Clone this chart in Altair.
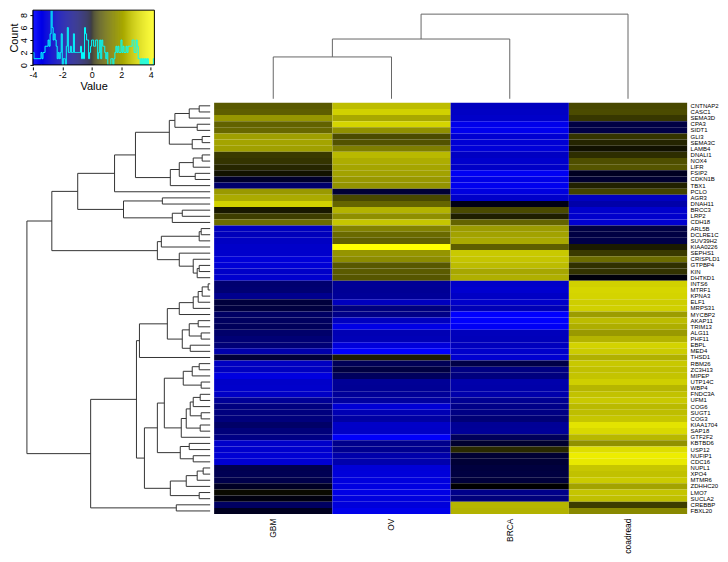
import altair as alt
import numpy as np
import pandas as pd

genes = ["CNTNAP2", "CASC1", "SEMA3D", "CPA3", "SIDT1", "GLI3", "SEMA3C", "LAMB4",
         "DNALI1", "NOX4", "LIFR", "FSIP2", "CDKN1B", "TBX1", "PCLO", "AGR3",
         "DNAH11", "BRCC3", "LRP2", "CDH18", "ARL5B", "DCLRE1C", "SUV39H2", "KIAA0226",
         "SEPHS1", "CRISPLD1", "GTPBP4", "KIN", "DHTKD1", "INTS6", "MTRF1", "KPNA3",
         "ELF1", "MRPS31", "MYCBP2", "AKAP11", "TRIM13", "ALG11", "PHF11", "EBPL",
         "MED4", "THSD1", "RBM26", "ZC3H13", "MIPEP", "UTP14C", "WBP4", "FNDC3A",
         "UFM1", "COG6", "SUGT1", "COG3", "KIAA1704", "SAP18", "GTF2F2", "KBTBD6",
         "USP12", "NUFIP1", "CDC16", "NUPL1", "XPO4", "MTMR6", "ZDHHC20", "LMO7",
         "SUCLA2", "CREBBP", "FBXL20"]

tumors = ["GBM", "OV", "BRCA", "coadread"]

gbm = [0.73, 0.80, 1.76, 0.86, 0.95, 1.93, 2.04, 1.96, 0.35, 0.30,
       0.18, 0.05, -0.22, -0.96, 1.84, 2.18, 3.08, 0.08, 0.40, 1.03,
       -2.45, -2.39, -2.56, -2.70, -2.76, -3.05, -2.98, -2.66, -2.81, -1.00,
       -1.04, -1.50, -0.36, -0.40, -0.84, -0.78, -0.72, -0.93, -1.09, -1.13,
       -2.05, -0.33, -2.53, -2.49, -3.22, -2.69, -2.74, -2.62, -1.66, -1.27,
       -1.24, -1.20, -0.89, -1.17, -1.36, -2.72, -2.78, -2.93, -2.90, -0.58,
       -0.62, -0.52, -0.15, 0.02, -0.04, -0.81, -0.12]

ov = [2.58, 3.04, 2.12, 3.15, 1.66, 0.57, 0.64, 1.32, 2.49, 2.22,
      2.06, 1.99, 1.80, 1.70, -0.31, 0.52, 0.91, 2.36, 1.62, 2.80,
      1.40, 0.98, 0.83, 4.25, 1.73, 1.57, 0.72, 0.76, 0.69, -1.66,
      -1.63, -1.69, -2.42, -1.22, -1.41, -2.51, -3.37, -2.24, -2.31, -3.13,
      -3.90, 0.10, -0.66, -0.42, -0.76, -1.66, -1.62, -1.70, -1.83, -2.96,
      -2.21, -1.90, -2.67, -2.64, -3.86, -1.47, -1.55, -2.05, -2.08, -3.01,
      -3.08, -3.17, -3.26, -3.31, -3.15, -3.10, -3.45]

brca = [-2.47, -2.58, -2.70, -3.48, -3.55, -2.91, -2.94, -3.03, -2.55, -2.75,
        -2.65, -3.68, -3.40, -3.60, -3.20, -2.71, -0.06, 0.54, 0.12, 0.88,
        1.86, 1.99, 2.15, 0.80, 2.85, 2.77, 2.55, 2.09, 2.27, -2.68,
        -2.83, -2.60, -2.72, -2.28, -4.00, -3.96, -3.78, -2.41, -2.36, -2.46,
        -2.73, -2.85, -0.47, -1.30, -1.25, -2.05, -2.02, -2.08, -1.58, -1.42,
        -1.33, -1.11, -1.66, -1.68, -0.71, -0.24, 0.20, -0.28, -0.30, -0.38,
        -0.41, -0.35, 0.00, -1.44, -1.19, 2.40, 2.33]

coadread = [0.52, 0.55, 0.33, -0.44, -0.47, 0.31, 0.16, 0.04, 0.24, 0.60,
            0.68, -0.13, -0.26, 0.14, 0.46, -2.50, -2.02, -2.77, -2.79, -2.86,
            -0.45, -0.43, -0.49, 0.10, 0.36, 1.02, 0.26, 0.29, -0.02, 3.06,
            3.18, 3.12, 2.97, 3.02, 1.90, 2.55, 2.25, 1.82, 2.37, 3.09,
            2.93, 2.31, 2.84, 2.66, 2.73, 3.00, 2.42, 2.70, 2.87, 2.51,
            2.61, 2.79, 3.51, 3.25, 2.47, 1.65, 3.38, 3.77, 3.65, 2.82,
            2.68, 2.91, 2.02, 2.76, 2.64, 0.39, 1.50]

# row dendrogram: (merge height, left, right); leaves are gene names
row_tree = (9.2,
    (7.95,
        (6.65,
            (4.8,
                (3.75,
                    (2.05,
                        (1.77, (1.05, (0.55, "CNTNAP2", "CASC1"), "SEMA3D"), (0.65, "CPA3", "SIDT1")),
                        (0.9, (0.4, "GLI3", "SEMA3C"), "LAMB4")),
                    (2.0,
                        (1.55, (0.85, (0.4, "DNALI1", "NOX4"), "LIFR"), (0.75, "FSIP2", "CDKN1B")),
                        "TBX1")),
                "PCLO"),
            (4.35, (2.4, "AGR3", "DNAH11"), (1.9, (1.4, "BRCC3", "LRP2"), "CDH18"))),
        (2.65,
            (2.45, (0.55, (0.45, "ARL5B", "DCLRE1C"), "SUV39H2"), "KIAA0226"),
            (1.55, "SEPHS1", (0.85, "CRISPLD1", (0.65, (0.55, "GTPBP4", "KIN"), "DHTKD1"))))),
    (6.0,
        (3.7,
            (3.55,
                (2.15,
                    (1.55, (0.85, (0.6, (0.4, (0.1, "INTS6", "MTRF1"), "KPNA3"), "ELF1"), "MRPS31"), "MYCBP2"),
                    (1.4, (1.05, (0.6, "AKAP11", "TRIM13"), (0.45, "ALG11", "PHF11")), (1.0, "EBPL", "MED4"))),
                "THSD1"),
            (3.3,
                (2.65,
                    (2.3,
                        (1.35, (0.9, (0.55, "RBM26", "ZC3H13"), "MIPEP"), (0.45, "UTP14C", "WBP4")),
                        (1.45, (1.2, (1.0, (0.85, (0.5, "FNDC3A", "UFM1"), "COG6"), (0.45, "SUGT1", "COG3")),
                                (0.5, "KIAA1704", "SAP18")), "GTF2F2")),
                    (1.5, (1.05, "KBTBD6", "USP12"), (0.85, "NUFIP1", "CDC16"))),
                (2.0, (1.2, (0.65, (0.35, "NUPL1", "XPO4"), "MTMR6"), "ZDHHC20"), (0.55, "LMO7", "SUCLA2")))),
        (1.7, "CREBBP", "FBXL20")))

col_tree = (8.5, (6.0, (4.2, "GBM", "OV"), "BRCA"), "coadread")

key_ticks_x = [-4, -2, 0, 2, 4]
key_ticks_y = [0, 2, 4, 6, 8]
n_bins = 120


def dendro_segments(tree, order):
    pos = {name: i + 0.5 for i, name in enumerate(order)}
    segs = []

    def walk(node):
        if isinstance(node, str):
            return pos[node], 0.0
        h, left, right = node
        p1, h1 = walk(left)
        p2, h2 = walk(right)
        segs.append((p1, h1, p1, h))
        segs.append((p2, h2, p2, h))
        segs.append((p1, h, p2, h))
        return (p1 + p2) / 2, h

    walk(tree)
    return pd.DataFrame(segs, columns=["p1", "h1", "p2", "h2"])


cells = pd.DataFrame({
    "gene": genes * 4,
    "tumor": [t for t in tumors for _ in genes],
    "value": gbm + ov + brca + coadread,
})
val_min = float(cells["value"].min())
val_max = float(cells["value"].max())

color_scale = alt.Scale(type="pow", exponent=0.6, domain=[val_min, 0, val_max],
                        range=["#0000ff", "#000000", "#ffff00"], interpolate="rgb")

# ---- heatmap
heat = alt.Chart(cells).mark_rect().encode(
    x=alt.X("tumor:N", sort=tumors, scale=alt.Scale(paddingInner=0, paddingOuter=0),
            axis=alt.Axis(title=None, labelAngle=270, labelFontSize=8.5, ticks=False,
                          domain=False, labelPadding=4, labelColor="#000")),
    y=alt.Y("gene:N", sort=genes, scale=alt.Scale(paddingInner=0, paddingOuter=0),
            axis=alt.Axis(title=None, orient="right", labelFontSize=6, ticks=False,
                          domain=False, labelPadding=3, labelColor="#000")),
    color=alt.Color("value:Q", scale=color_scale, legend=None),
).properties(width=475, height=413)

# ---- row dendrogram
rseg = dendro_segments(row_tree, genes)
row_dendro = alt.Chart(rseg).mark_rule(color="#333333", strokeWidth=1).encode(
    x=alt.X("h1:Q", scale=alt.Scale(domain=[0, 10.1], reverse=True, nice=False, zero=False), axis=None),
    x2="h2:Q",
    y=alt.Y("p1:Q", scale=alt.Scale(domain=[0, len(genes)], reverse=True, nice=False, zero=False), axis=None),
    y2="p2:Q",
).properties(width=202, height=413)

# ---- column dendrogram
cseg = dendro_segments(col_tree, tumors)
col_dendro = alt.Chart(cseg).mark_rule(color="#666666", strokeWidth=1).encode(
    x=alt.X("p1:Q", scale=alt.Scale(domain=[0, len(tumors)], nice=False, zero=False), axis=None),
    x2="p2:Q",
    y=alt.Y("h1:Q", scale=alt.Scale(domain=[0, 8.9], nice=False, zero=False), axis=None),
    y2="h2:Q",
).properties(width=475, height=89)

# ---- colour key with histogram
edges = np.linspace(val_min, val_max, n_bins + 1)
counts, _ = np.histogram(np.array(cells["value"]), bins=edges)
bands = pd.DataFrame({"lo": edges[:-1], "hi": edges[1:], "mid": (edges[:-1] + edges[1:]) / 2})
hist = pd.DataFrame({"x": edges, "count": list(counts) + [counts[-1]]})

key_box_px, key_left_px = 122, 24          # key box width and room for its y axis
key_unit = (val_max - val_min) / key_box_px
kx = alt.Scale(domain=[val_min - key_left_px * key_unit, val_max], nice=False, zero=False)
ky = alt.Scale(domain=[0, 8.8], nice=False, zero=True)

x_axis = alt.Axis(values=key_ticks_x, labelExpr="'' + datum.value", title="Value",
                  grid=False, tickSize=3, labelFontSize=9, titleFontSize=11,
                  titlePadding=1, labelPadding=1, titleFontWeight="normal",
                  titleX=key_left_px + key_box_px / 2, domain=False,
                  labelOverlap=False, labelFlush=False,
                  tickColor="#000", labelColor="#000", titleColor="#000", offset=2)
y_axis = alt.Axis(values=key_ticks_y, title="Count", grid=False, tickSize=3,
                  labelFontSize=9, titleFontSize=11, labelAngle=270,
                  labelAlign="center", labelBaseline="bottom", labelPadding=1,
                  titlePadding=0, titleFontWeight="normal", domainColor="#000",
                  labelOverlap=False, labelFlush=False,
                  tickColor="#000", labelColor="#000",
                  titleColor="#000", offset=-key_left_px)

key_bands = alt.Chart(bands).mark_rect().encode(
    x=alt.X("lo:Q", scale=kx, axis=x_axis),
    x2="hi:Q",
    color=alt.Color("mid:Q", scale=color_scale, legend=None),
)
key_box = alt.Chart(bands).mark_rect(fillOpacity=0, stroke="#000000", strokeWidth=1).encode(
    x=alt.X("min(lo):Q", scale=kx, axis=x_axis),
    x2="max(hi):Q",
)
key_hist = alt.Chart(hist).mark_line(interpolate="step-after", color="#00ffff",
                                     strokeWidth=1, clip=True).encode(
    x=alt.X("x:Q", scale=kx, axis=x_axis),
    y=alt.Y("count:Q", scale=ky, axis=y_axis),
)
key = alt.layer(key_bands, key_hist, key_box).properties(
    width=key_left_px + key_box_px, height=55)

chart = alt.concat(key, col_dendro, row_dendro, heat, columns=2, spacing=4,
                   bounds="flush").properties(padding=0).configure(
    font="Liberation Sans").configure_view(strokeWidth=0)

chart.save("out.html", embed_options={"renderer": "svg", "actions": False})
